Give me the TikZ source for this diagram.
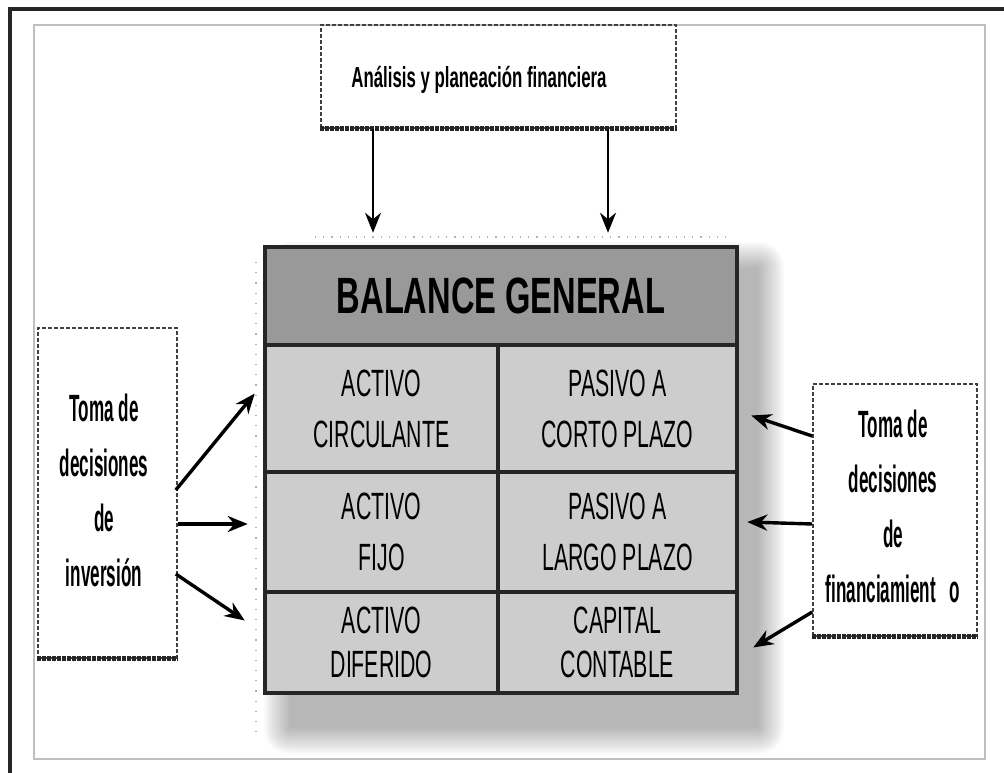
\documentclass[tikz,border=0pt]{standalone}
\usepackage{fontspec}
\setmainfont{Liberation Sans}
\newfontfamily\headfont{Liberation Sans}[FakeStretch=0.64]
\newfontfamily\cellfont{Liberation Sans}[FakeStretch=0.56]
\newfontfamily\planfont{Liberation Sans}[FakeStretch=0.58]
\newfontfamily\sidefont{Liberation Sans}[FakeStretch=0.45]
\usetikzlibrary{arrows.meta}
\definecolor{hdrgray}{RGB}{153,153,153}
\definecolor{cellgray}{RGB}{205,205,205}
\tikzset{
  dbox/.style={draw=black!75, line width=1.6pt, dash pattern=on 4pt off 2pt,
    inner sep=0pt, align=center},
  dbottom/.style={line width=5pt, draw=black!85, dash pattern=on 3.5pt off 1.5pt},
  hdr/.style={draw=black!85, line width=4.5pt, fill=hdrgray, inner sep=0pt,
    minimum width=472pt, minimum height=98pt,
    font=\headfont\bfseries\fontsize{51}{56}\selectfont},
  cell/.style={draw=black!85, line width=4.5pt, fill=cellgray, inner sep=0pt,
    align=center, font=\cellfont\fontsize{38}{51}\selectfont},
  lcol/.style={cell, minimum width=233pt},
  rcol/.style={cell, minimum width=239pt},
  side/.style={font=\sidefont\bfseries\fontsize{38}{55}\selectfont, align=center},
}
\begin{document}
\begin{tikzpicture}[>={Stealth[length=20pt,width=16pt]}, x=1pt, y=-1pt]
\useasboundingbox (0,0) rectangle (1004,773);
% frames
\draw[line width=3.5pt, black!85] (10,773) -- (10,9) -- (1004,9);
\draw[line width=1.8pt, black!25] (34,25) rectangle (985,759);
% shadow of the table
\foreach \s in {0,2,...,26}
  \fill[black, opacity=.022, rounded corners=\s pt] (290-\s,268-\s) rectangle (758+\s,728+\s);
\draw[black!30, line width=1.2pt, dash pattern=on 1.2pt off 7pt] (315,237) -- (728,237);
\draw[black!30, line width=1.2pt, dash pattern=on 1.2pt off 9pt] (256,262) -- (256,740);
% top box
\node[dbox, minimum width=355pt, minimum height=103pt] (plan) at (498.5,76.5) {};
\node[font=\planfont\bfseries\fontsize{29}{34}\selectfont] (plantxt) at (479,80) {Análisis y planeación financiera};
\draw[dbottom] (plan.south west) -- (plan.south east);
% balance general
\node[hdr] (bg) at (501,296) {BALANCE GENERAL};
\node[lcol, minimum height=127pt] (ac) at (381.5,408.5) {ACTIVO\\CIRCULANTE};
\node[rcol, minimum height=127pt] (pc) at (617.5,408.5) {PASIVO A\\CORTO PLAZO};
\node[lcol, minimum height=120pt] (af) at (381.5,532) {ACTIVO\\FIJO};
\node[rcol, minimum height=120pt] (pl) at (617.5,532) {PASIVO A\\LARGO PLAZO};
\node[lcol, minimum height=101pt] (ad) at (381.5,642.5) {ACTIVO\\[-7pt]DIFERIDO};
\node[rcol, minimum height=101pt] (cc) at (617.5,642.5) {CAPITAL\\[-7pt]CONTABLE};
% side boxes
\node[dbox, minimum width=139pt, minimum height=330pt] (inv) at (107.5,493) {};
\node[side] (invtxt) at (104,490) {Toma de\\decisiones\\de\\inversión};
\draw[dbottom] (inv.south west) -- (inv.south east);
\node[dbox, minimum width=164pt, minimum height=252pt] (fin) at (895,510) {};
\node[side] (fintxt) at (893,506) {Toma de\\decisiones\\de\\financiamient\hspace{14pt}o};
\draw[dbottom] (fin.south west) -- (fin.south east);
% arrows
\draw[->, line width=2.2pt] ([xshift=-125.5pt]plan.south) -- ([xshift=-128pt,yshift=12pt]bg.north);
\draw[->, line width=2.2pt] ([xshift=109.5pt]plan.south) -- ([xshift=107pt,yshift=12pt]bg.north);
\draw[->, line width=3.4pt] ([xshift=-2pt,yshift=3pt]inv.east) -- ([xshift=-8pt,yshift=15pt]ac.west);
\draw[->, line width=3.4pt] ([yshift=-31pt]inv.east) -- ([xshift=-15pt,yshift=8pt]af.west);
\draw[->, line width=3.4pt] ([xshift=-2pt,yshift=-81pt]inv.east) -- ([xshift=-18pt,yshift=22pt]ad.west);
\draw[->, line width=3.4pt] ([yshift=74pt]fin.west) -- ([xshift=12pt,yshift=-7pt]pc.east);
\draw[->, line width=3.4pt] ([yshift=-14pt]fin.west) -- ([xshift=8pt,yshift=10pt]pl.east);
\draw[->, line width=3.4pt] ([yshift=-102pt]fin.west) -- ([xshift=14pt,yshift=-5pt]cc.east);
\end{tikzpicture}
\end{document}
